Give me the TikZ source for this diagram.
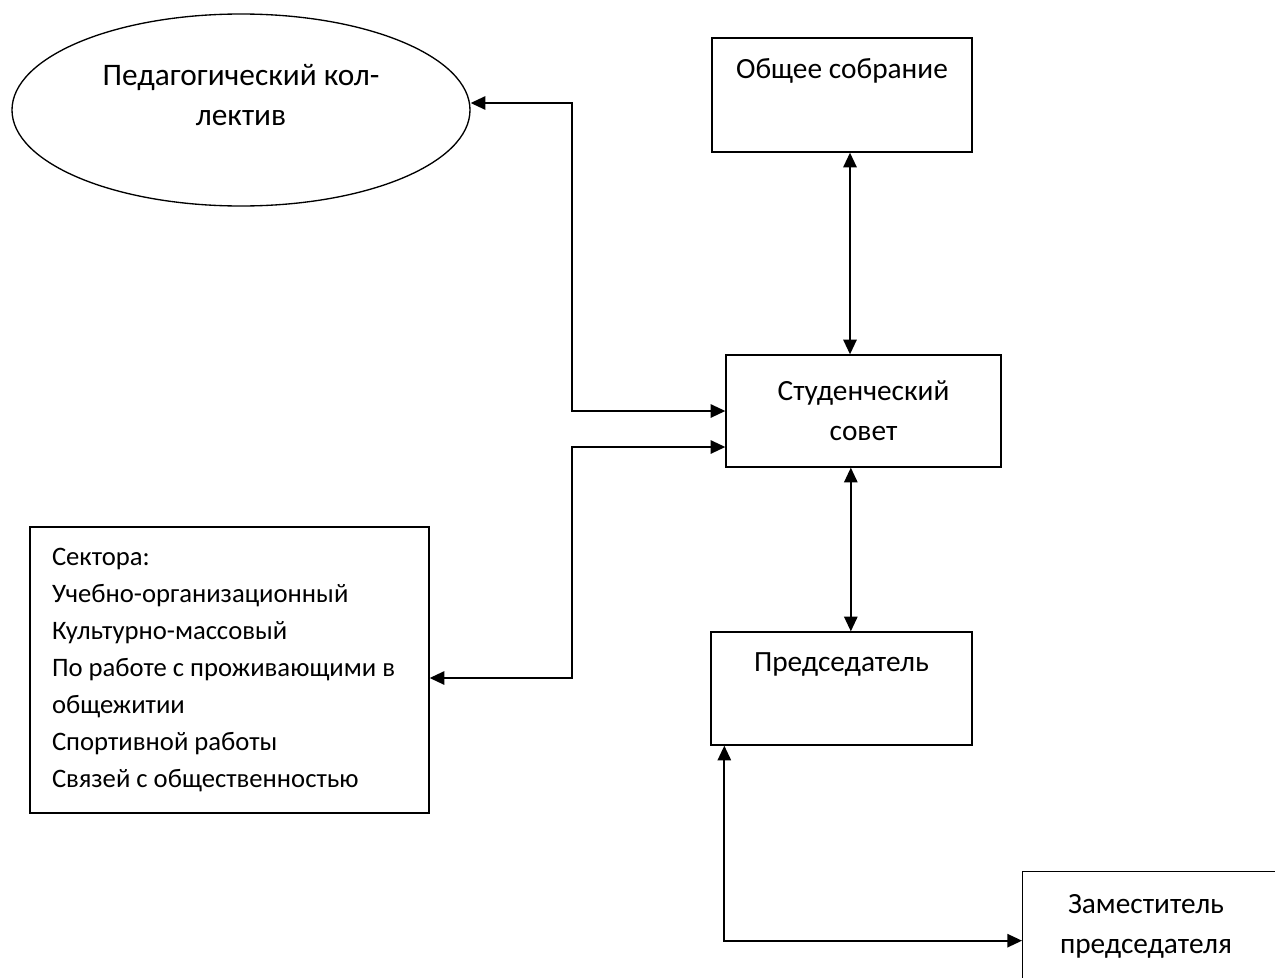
\documentclass[tikz,border=0pt]{standalone}
\usepackage{fontspec}
\setmainfont{Carlito}
\usetikzlibrary{shapes.geometric,arrows.meta}

\tikzset{
  kasten/.style={draw, line width=1pt, rectangle, inner sep=0pt, align=center},
  pfeil/.style={line width=1.3pt, {Triangle[length=11pt,width=10pt]}-{Triangle[length=11pt,width=10pt]}}
}

\begin{document}
\begin{tikzpicture}[x=0.75pt,y=-0.75pt, font=\fontsize{22}{30}\selectfont]
      \useasboundingbox (0,0) rectangle (1275,978);
      \clip (0,0) rectangle (1275,978);

      \node[draw, line width=1pt, ellipse, minimum width=343.5pt, minimum height=144pt, inner sep=0pt,
            label={[align=center, font=\fontsize{23.5}{29.5}\selectfont, yshift=11.25pt]center:Педагогический кол-\\лектив}] (koll) at (241,110) {};
      \node[kasten, minimum width=195pt, minimum height=85.5pt] (obsh) at (842,95) {Общее собрание\\\strut};
      \node[kasten, minimum width=206.25pt, minimum height=84pt] (stud) at (863.5,411) {Студенческий\\совет};
      \node[kasten, minimum width=195.75pt, minimum height=84.75pt] (pred) at (841.5,688.5) {Председатель\\\strut};
      \node[kasten, anchor=north west, minimum width=225pt, minimum height=97.5pt,
            label={[align=center, xshift=-20pt, yshift=8pt]center:Заместитель\\председателя}] (zam) at (1022,871) {};
      \node[kasten, minimum width=299.25pt, minimum height=214.5pt, align=flush left, text width=266.25pt,
            font=\fontsize{20}{27.75}\selectfont] (sekt) at (229.5,670)
            {Сектора:\\Учебно-организационный\\Культурно-массовый\\По работе с проживающими в\\общежитии\\Спортивной работы\\Связей с общественностью};

      % Knickpunkte
      \coordinate (gabel) at (572,0);
      \coordinate (s2) at ([yshift=-27pt]stud.west);
      \coordinate (v1) at ([xshift=6pt]obsh.south);
      \coordinate (v2) at ([xshift=7pt]pred.north);
      \coordinate (v3) at ([xshift=10.5pt]pred.south west);
      \coordinate (v4) at ([yshift=-3pt]zam.west);

      \draw[pfeil] ([yshift=5.25pt]koll.east) -| (gabel |- stud.west) -- (stud.west);
      \draw[pfeil] ([yshift=-6pt]sekt.east) -| (gabel |- s2) -- (s2);
      \draw[pfeil] (v1) -- (v1 |- stud.north);
      \draw[pfeil] (v2 |- stud.south) -- (v2);
      \draw[pfeil] (v3) |- (v4);
    \end{tikzpicture}
\end{document}
